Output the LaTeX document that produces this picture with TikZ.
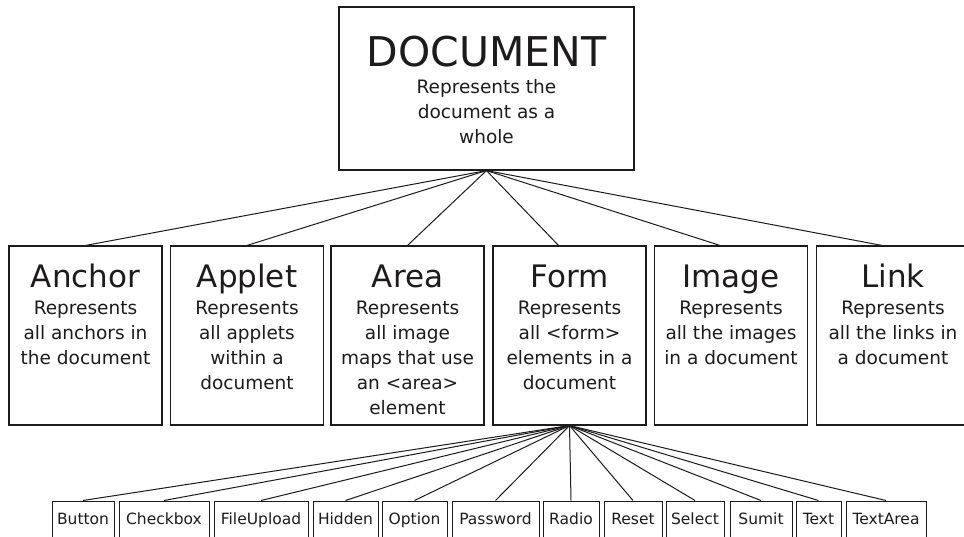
\documentclass[tikz,border=0pt]{standalone}
\usepackage{fontspec}
\setmainfont{DejaVu Sans}
\usetikzlibrary{calc}
\definecolor{ink}{HTML}{1E1B1C}
\begin{document}
\begin{tikzpicture}[x=1pt,y=-1pt,
  bigbox/.style={draw=ink, line width=1.1pt, minimum width=153pt, minimum height=179pt, inner sep=0pt},
  topbox/.style={draw=ink, line width=1.1pt, minimum width=295pt, minimum height=163pt, inner sep=0pt},
  ttl/.style={font=\fontsize{31}{31}\selectfont, text=ink, anchor=base, inner sep=0pt},
  bigttl/.style={font=\fontsize{41}{41}\selectfont, text=ink, anchor=base, inner sep=0pt},
  body/.style={font=\fontsize{18.5}{25}\selectfont, text=ink, align=center, anchor=north, inner sep=0pt},
  leaf/.style={draw=ink, line width=1pt, font=\fontsize{15.5}{18}\selectfont, text=ink,
    inner xsep=0pt, inner ysep=0pt, text height=23pt, text depth=16pt, anchor=base},
  wire/.style={draw=ink, line width=1pt}]
\useasboundingbox (0,0) rectangle (964,537);
\clip (0,0) rectangle (964,537);
\fill[white] (0,0) rectangle (964,537);

% top
\node[topbox] (doc) at (486.5,88.5) {};
\node[bigttl] (doct) at ($(doc.north)+(0,60)$) {DOCUMENT};
\node[body] (docb) at ($(doc.north)+(0,73)$) {Represents the\\document as a\\whole};

% middle row
\node[bigbox] (anchor) at (85.5,335.5) {};
\node[bigbox] (applet) at (247,335.5) {};
\node[bigbox] (area) at (407.5,335.5) {};
\node[bigbox] (form) at (569.5,335.5) {};
\node[bigbox] (image) at (731,335.5) {};
\node[bigbox] (link) at (893,335.5) {};

\foreach \n/\t in {anchor/Anchor, applet/Applet, area/Area, form/Form, image/Image, link/Link}{
  \node[ttl] (\n-t) at ($(\n.north)+(0,42)$) {\t};
}
\node[body] (anchor-b) at ($(anchor.north)+(0,55)$) {Represents\\all anchors in\\the document};
\node[body] (applet-b) at ($(applet.north)+(0,55)$) {Represents\\all applets\\within a\\document};
\node[body] (area-b) at ($(area.north)+(0,55)$) {Represents\\all image\\maps that use\\an <area>\\element};
\node[body] (form-b) at ($(form.north)+(0,55)$) {Represents\\all <form>\\elements in a\\document};
\node[body] (image-b) at ($(image.north)+(0,55)$) {Represents\\all the images\\in a document};
\node[body] (link-b) at ($(link.north)+(0,55)$) {Represents\\all the links in\\a document};

% connectors top
\draw[wire] (doc.south) -- (anchor.north);
\draw[wire] (doc.south) -- (applet.north);
\draw[wire] (doc.south) -- (area.north);
\draw[wire] (doc.south) -- ([xshift=-11pt]form.north);
\draw[wire] (doc.south) -- ([xshift=-11pt]image.north);
\draw[wire] (doc.south) -- ([xshift=-11pt]link.north);

% bottom row
\foreach \n/\cx/\w in {Button/83/62, Checkbox/164/90, FileUpload/261/94, Hidden/345.5/65,
  Option/414.5/65, Password/495.5/87, Radio/571/56, Reset/633/58, Select/695/58,
  Sumit/761/62, Text/818.5/45, TextArea/886/80}{
  \node[leaf, minimum width=\w pt] (\n) at (\cx,524) {\n};
  \draw[wire] (form.south) -- (\n.north);
}
\end{tikzpicture}
\end{document}
